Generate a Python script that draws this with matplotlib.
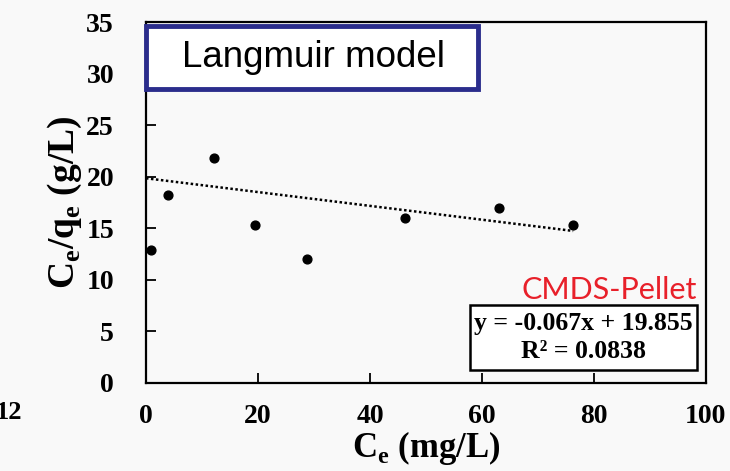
import matplotlib
matplotlib.use("Agg")
import matplotlib.pyplot as plt
from matplotlib.patches import Rectangle
import numpy as np

ce = [0.9, 4.0, 12.2, 19.5, 28.75, 46.25, 63.0, 76.3]
ce_qe = [12.85, 18.2, 21.8, 15.3, 12.05, 16.0, 17.0, 15.3]
slope = -0.067
intercept = 19.855
r2 = 0.0838
xticks = [0, 20, 40, 60, 80, 100]
yticks = [0, 5, 10, 15, 20, 25, 30, 35]

bg = "#f9f9f9"
fig = plt.figure(figsize=(7.30, 4.71), dpi=100, facecolor=bg)
ax = fig.add_axes([0.2, 0.187, 0.767, 0.766], facecolor=bg)

serif = "Liberation Serif"

ax.scatter(ce, ce_qe, s=40, color="black", zorder=3, clip_on=False)
xl = np.array([0, max(ce)])
ax.plot(xl, slope * xl + intercept, color="black", linestyle=(0, (1, 1)), linewidth=1.8)

ax.set_xlim(0, 100)
ax.set_ylim(0, 35)
ax.set_xticks(xticks)
ax.set_yticks(yticks)
ax.tick_params(direction="in", length=7, width=1.3, labelsize=20)
ax.tick_params(axis="x", pad=15)
ax.tick_params(axis="y", pad=23)
for lab in ax.get_xticklabels() + ax.get_yticklabels():
    lab.set_fontfamily(serif)
    lab.set_fontweight("bold")
for sp in ax.spines.values():
    sp.set_linewidth(1.6)

ax.set_xlabel(r"C$_\mathregular{e}$ (mg/L)", fontfamily=serif, fontweight="bold",
              fontsize=25, labelpad=0)
ax.set_ylabel(r"C$_\mathregular{e}$/q$_\mathregular{e}$ (g/L)", fontfamily=serif,
              fontweight="bold", fontsize=27, labelpad=2)

# Langmuir model box
fig.add_artist(Rectangle((0.2, 0.811), 0.455, 0.134, transform=fig.transFigure,
                         facecolor="white", edgecolor="#2b2d8c", linewidth=3.5, zorder=5))
fig.text(0.4288, 0.878, "Langmuir model", fontfamily="Liberation Sans", fontsize=26.5,
         ha="center", va="center", zorder=6)

# CMDS-Pellet label
fig.text(0.955, 0.384, "CMDS-Pellet", fontfamily="Lato", fontsize=22,
         color="#e8202a", ha="right", va="center")

# Equation box
fig.add_artist(Rectangle((0.6438, 0.2144), 0.311, 0.138, transform=fig.transFigure,
                         facecolor="white", edgecolor="black", linewidth=1.8, zorder=5))
fig.text(0.799, 0.314, f"y = {slope:.3f}x + {intercept:.3f}", fontfamily=serif,
         fontweight="bold", fontsize=18.5, ha="center", va="center", zorder=6)
fig.text(0.799, 0.253, f"R² = {r2:.4f}", fontfamily=serif,
         fontweight="bold", fontsize=18.5, ha="center", va="center", zorder=6)

# fragment of neighbouring chart
fig.text(0.03, 0.125, "12", fontfamily=serif, fontweight="bold", fontsize=19,
         ha="right", va="center")

fig.savefig("out.png", dpi=100, facecolor=bg)
